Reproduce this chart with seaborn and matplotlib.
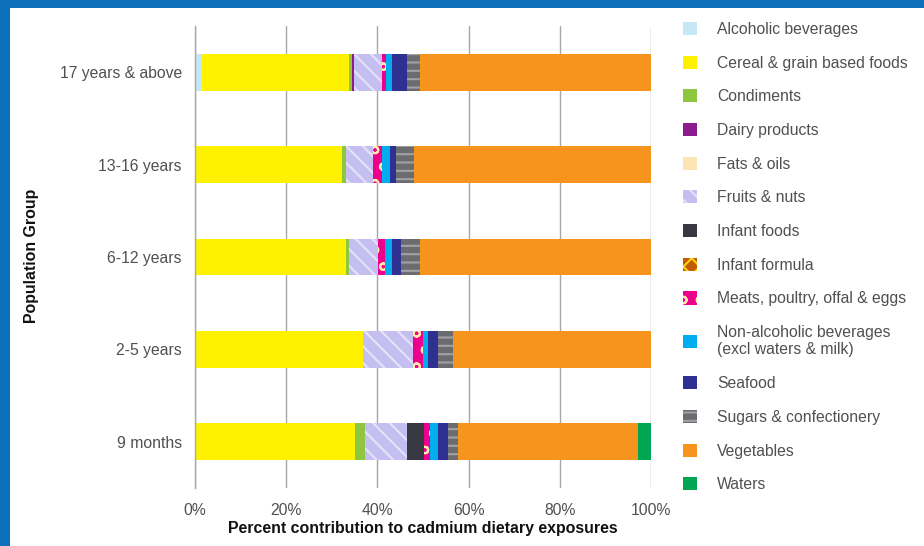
import numpy as np
import pandas as pd
import matplotlib
matplotlib.use("Agg")
import matplotlib.pyplot as plt
from matplotlib.patches import Patch, Rectangle
import seaborn as sns

# Population groups (top to bottom)
groups = ["17 years & above", "13-16 years", "6-12 years", "2-5 years", "9 months"]

# Percent contribution of each food group to cadmium dietary exposure
alcoholic = [1.5, 0.0, 0.0, 0.0, 0.0]
cereal = [32.2, 32.2, 33.1, 36.8, 35.1]
condiments = [0.7, 0.9, 0.7, 0.0, 2.2]
dairy = [0.4, 0.0, 0.0, 0.0, 0.0]
fats_oils = [0.0, 0.0, 0.0, 0.0, 0.0]
fruits_nuts = [6.1, 5.9, 6.4, 11.0, 9.2]
infant_foods = [0.0, 0.0, 0.0, 0.0, 3.7]
infant_formula = [0.0, 0.0, 0.0, 0.0, 0.0]
meats = [0.9, 2.0, 1.5, 2.2, 1.3]
non_alcoholic = [1.3, 1.8, 1.5, 1.1, 1.8]
seafood = [3.3, 1.3, 2.0, 2.2, 2.2]
sugars = [2.9, 3.9, 4.2, 3.3, 2.2]
vegetables = [50.7, 52.0, 50.6, 43.4, 39.5]
waters = [0.0, 0.0, 0.0, 0.0, 2.8]

food_labels = [
    "Alcoholic beverages", "Cereal & grain based foods", "Condiments",
    "Dairy products", "Fats & oils", "Fruits & nuts", "Infant foods",
    "Infant formula", "Meats, poultry, offal & eggs",
    "Non-alcoholic beverages\n(excl waters & milk)", "Seafood",
    "Sugars & confectionery", "Vegetables", "Waters",
]
food_values = [
    alcoholic, cereal, condiments, dairy, fats_oils, fruits_nuts, infant_foods,
    infant_formula, meats, non_alcoholic, seafood, sugars, vegetables, waters,
]

# fill colour, hatch pattern, hatch colour
styles = [
    ("#c6e7f6", None, None),
    ("#fff200", None, None),
    ("#8dc63f", None, None),
    ("#8e1b8e", None, None),
    ("#fde4b4", None, None),
    ("#c4bff0", "\\\\", "#e6e2fa"),
    ("#383843", None, None),
    ("#c25a00", "xx", "#ffd21a"),
    ("#ec008c", "o", "#ffe8a8"),
    ("#00aeef", None, None),
    ("#2e3192", None, None),
    ("#6b6c70", "--", "#a0a1a4"),
    ("#f7941d", None, None),
    ("#00a651", None, None),
]

sns.set_style("white")
plt.rcParams["font.family"] = ["Liberation Sans", "DejaVu Sans"]
plt.rcParams["hatch.linewidth"] = 1.5

fig = plt.figure(figsize=(9.24, 5.46), dpi=100)
ax = fig.add_axes([195 / 924, 1 - 488 / 546, 456 / 924, 462 / 546])

# Stacked bars: draw cumulative totals from the outermost layer inwards
cum = np.cumsum(np.array(food_values), axis=0)
for i in range(len(food_labels) - 1, -1, -1):
    df = pd.DataFrame({"group": groups, "total": cum[i]})
    n_before = len(ax.patches)
    fill, hatch, hcol = styles[i]
    sns.barplot(data=df, x="total", y="group", order=groups, orient="h",
                color=fill, saturation=1, width=0.4, errorbar=None, ax=ax)
    for p in ax.patches[n_before:]:
        p.set_facecolor(fill)
        p.set_linewidth(0)
        if hatch:
            p.set_hatch(hatch)
            p.set_edgecolor(hcol)
        else:
            p.set_edgecolor(fill)
        p.set_zorder(2)

ax.set_xlim(0, 100)
ax.set_ylim(4.5, -0.5)
ax.set_xticks(np.arange(0, 101, 20))
ax.set_xticklabels([f"{v}%" for v in range(0, 101, 20)])
ax.set_yticks(np.arange(-0.5, 5, 1), minor=True)
ax.set_xlabel("")
ax.set_ylabel("")

grid_col = "#a8a8a8"
ax.xaxis.grid(True, color=grid_col, linewidth=1.0, zorder=0)
ax.set_axisbelow(True)
for s in ["top", "right", "bottom"]:
    ax.spines[s].set_visible(False)
ax.spines["left"].set_color(grid_col)
ax.spines["left"].set_linewidth(1.0)

text_col = "#505050"
ax.tick_params(axis="y", which="major", length=0, pad=9.4,
               labelsize=11.3, labelcolor=text_col)
ax.tick_params(axis="y", which="minor", length=4, color=grid_col, width=1)
ax.tick_params(axis="x", which="major", length=4, color=grid_col, width=1,
               pad=6.5, labelsize=11.3, labelcolor=text_col)

fig.text(423 / 924, 1 - 528 / 546, "Percent contribution to cadmium dietary exposures",
         ha="center", va="center", fontsize=11.4, fontweight="bold", color="#111111")
fig.text(32 / 924, 1 - 256 / 546, "Population Group", rotation=90,
         ha="center", va="center", fontsize=11.4, fontweight="bold", color="#111111")

handles = []
for fill, hatch, hcol in styles:
    if hatch:
        handles.append(Patch(facecolor=fill, edgecolor=hcol, hatch=hatch, linewidth=0))
    else:
        handles.append(Patch(facecolor=fill, edgecolor=fill, linewidth=0))
leg = fig.legend(handles, food_labels, loc="upper left",
                 bbox_to_anchor=(683 / 924, 1 - 22 / 546), frameon=False,
                 fontsize=11.3, handlelength=0.9, handleheight=0.9,
                 handletextpad=1.27, labelspacing=1.19, borderpad=0, borderaxespad=0)
for t in leg.get_texts():
    t.set_color(text_col)

# blue frame along the top and left edges
frame_col = "#0b6fba"
fig.patches.append(Rectangle((0, 0), 10 / 924, 1, transform=fig.transFigure,
                             facecolor=frame_col, edgecolor="none", zorder=10))
fig.patches.append(Rectangle((0, 1 - 8 / 546), 1, 8 / 546, transform=fig.transFigure,
                             facecolor=frame_col, edgecolor="none", zorder=10))

fig.savefig("out.png", dpi=100)
